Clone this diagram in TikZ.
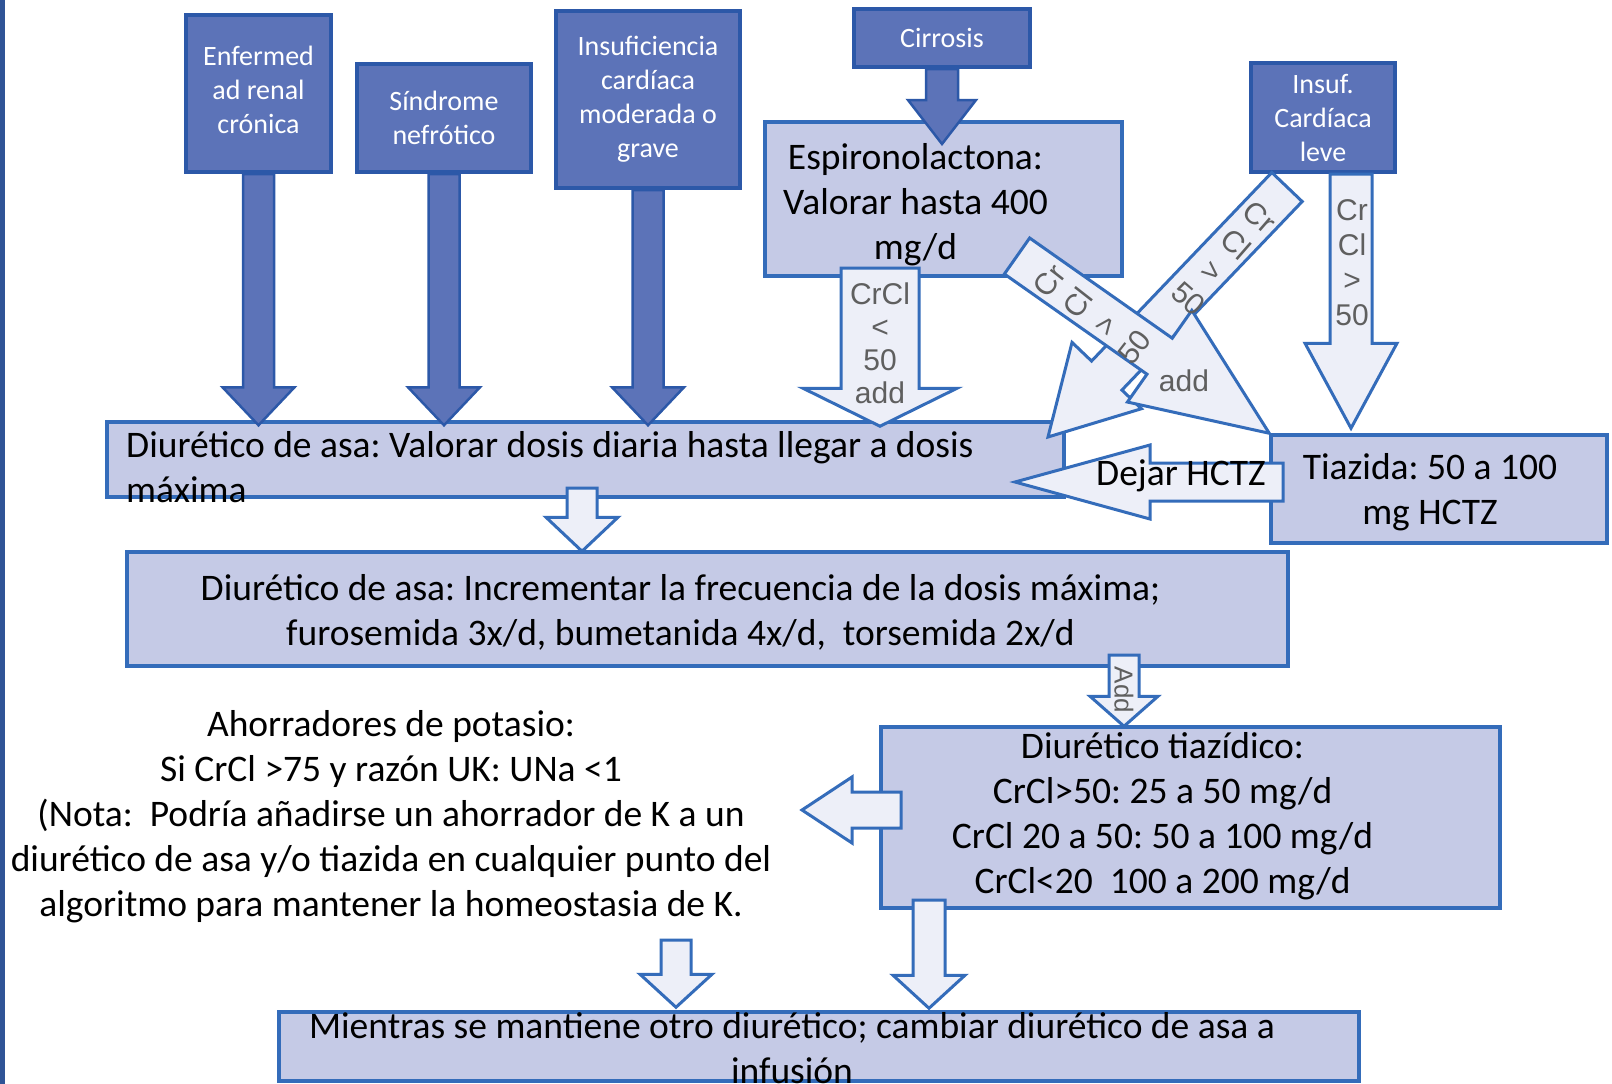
\documentclass[tikz,border=0pt]{standalone}
\usepackage{fontspec}
\setmainfont{Carlito}
\newfontfamily\arrowfont{Liberation Sans}
\usetikzlibrary{calc}
\frenchspacing

\definecolor{boxdark}{RGB}{92,115,184}
\definecolor{edgedark}{RGB}{44,88,168}
\definecolor{boxlite}{RGB}{197,202,230}
\definecolor{edgelite}{RGB}{52,108,186}
\definecolor{arrowlite}{RGB}{237,239,248}
\definecolor{labelgray}{RGB}{95,95,95}
\definecolor{sideline}{RGB}{47,84,150}

% fat block arrow: [style]{tail}{tip}{half shaft}{half head}{head length}
\newcommand{\blockarrow}[6][]{%
  \coordinate (ba-neck) at ($(#3)!#6!(#2)$);
  \draw[#1] ($(#2)!#4!90:(#3)$) -- ($(ba-neck)!#4!90:(#3)$)
    -- ($(ba-neck)!#5!90:(#3)$) -- (#3) -- ($(ba-neck)!#5!-90:(#3)$)
    -- ($(ba-neck)!#4!-90:(#3)$) -- ($(#2)!#4!-90:(#3)$) -- cycle;
}

\begin{document}
\begin{tikzpicture}[x=1pt, y=-1pt,
    darkbox/.style={draw=edgedark, fill=boxdark, line width=4pt, inner sep=0pt,
      text=white, align=center, font=\fontsize{28}{34}\selectfont},
    litebox/.style={draw=edgelite, fill=boxlite, line width=3.5pt, inner sep=0pt},
    bigtext/.style={align=center, inner sep=0pt, font=\fontsize{37.5}{45}\selectfont},
    darkarrow/.style={draw=edgedark, fill=boxdark, line width=2.5pt},
    litearrow/.style={draw=edgelite, fill=arrowlite, line width=3pt},
    arrowtext/.style={align=center, inner sep=0pt, text=labelgray,
      font=\arrowfont\fontsize{30}{33}\selectfont}]

  \fill[white] (0,0) rectangle (1612,1084);
  \useasboundingbox (0,0) rectangle (1612,1084);

  % side rule
  \fill[sideline] (0,0) rectangle (5,1084);

  % starting conditions
  \node[darkbox, minimum width=145pt, minimum height=157pt, text depth=8pt] (ckd) at (258.5,93.5) {Enfermed\\ad renal\\crónica};
  \node[darkbox, minimum width=174pt, minimum height=108pt] (nephro) at (444,118) {Síndrome\\nefrótico};
  \node[darkbox, minimum width=184pt, minimum height=177pt] (chf) at (648,99.5) {Insuficiencia\\cardíaca\\moderada o\\grave};
  \node[darkbox, minimum width=176pt, minimum height=58pt] (cirr) at (942,38) {Cirrosis};
  \node[darkbox, minimum width=144pt, minimum height=109pt] (mild) at (1323,117.5) {Insuf.\\Cardíaca\\leve};

  % treatment steps
  \node[litebox, minimum width=357pt, minimum height=154pt] (spiro) at (943.5,199) {};
  \node[litebox, minimum width=957pt, minimum height=75pt] (loop1) at (585.5,459.5) {};
  \node[litebox, minimum width=1161pt, minimum height=114pt] (loop2) at (707.5,609) {};
  \node[litebox, minimum width=336pt, minimum height=108pt] (thz) at (1439,489) {};
  \node[litebox, minimum width=619pt, minimum height=181pt] (thz2) at (1190.5,817.5) {};
  \node[litebox, minimum width=1080pt, minimum height=69pt] (infus) at (819,1046.5) {};

  % arrow ends
  \coordinate (ckd-tip) at ($(ckd.south |- loop1.north)+(0,5)$);
  \coordinate (nephro-tip) at ($(nephro.south |- loop1.north)+(0,5)$);
  \coordinate (chf-tip) at ($(chf.south |- loop1.north)+(0,5)$);
  \coordinate (cirr-tip) at ($(cirr.south)+(0,75)$);
  \coordinate (lt50-out) at (880,268);
  \coordinate (lt50-tip) at ($(lt50-out |- loop1.north)+(0,6)$);
  \coordinate (gt50-out) at ($(mild.south)+(28,0)$);
  \coordinate (gt50-tip) at ($(gt50-out |- thz.north)+(0,-5)$);
  \coordinate (diag-a-out) at (1017,256);
  \coordinate (diag-b-out) at (1287,187);
  \coordinate (diag-b-tip) at (1048,437);
  \coordinate (stop-out) at (1283,482);
  \coordinate (stop-tip) at (1015,482);
  \coordinate (step-out) at (582,488);
  \coordinate (step-tip) at ($(step-out |- loop2.north)+(0,1)$);
  \coordinate (add-out) at (1124,655);
  \coordinate (add-tip) at ($(add-out |- thz2.north)+(0,1)$);
  \coordinate (ksp-out) at (901,810);
  \coordinate (ksp-tip) at (802,810);
  \coordinate (note-out) at (676,940);
  \coordinate (note-tip) at ($(note-out |- infus.north)+(0,-3)$);
  \coordinate (thz2-out) at (929,900);
  \coordinate (thz2-tip) at ($(thz2-out |- infus.north)+(0,-2)$);

  % dark arrows
  \blockarrow[darkarrow]{ckd.south}{ckd-tip}{15.5pt}{36pt}{38pt}
  \blockarrow[darkarrow]{nephro.south}{nephro-tip}{15.5pt}{36pt}{38pt}
  \blockarrow[darkarrow]{chf.south}{chf-tip}{15.5pt}{36pt}{38pt}
  \blockarrow[darkarrow]{cirr.south}{cirr-tip}{16pt}{34pt}{44pt}

  % light arrows
  \blockarrow[litearrow]{lt50-out}{lt50-tip}{39pt}{77pt}{38pt}
  \blockarrow[litearrow]{gt50-out}{gt50-tip}{21pt}{46pt}{85pt}
  \blockarrow[litearrow]{diag-b-out}{diag-b-tip}{21pt}{48pt}{85pt}
  \blockarrow[litearrow]{diag-a-out}{thz.north west}{22pt}{56pt}{134pt}
  \blockarrow[litearrow]{stop-out}{stop-tip}{19pt}{37pt}{135pt}
  \blockarrow[litearrow]{step-out}{step-tip}{15pt}{36pt}{34pt}
  \blockarrow[litearrow]{add-out}{add-tip}{15pt}{34pt}{30pt}
  \blockarrow[litearrow]{ksp-out}{ksp-tip}{18pt}{33pt}{50pt}
  \blockarrow[litearrow]{note-out}{note-tip}{15pt}{36pt}{33pt}
  \blockarrow[litearrow]{thz2-out}{thz2-tip}{16pt}{36pt}{33pt}

  % arrow labels
  \node[arrowtext] (lt50-txt) at (880,343) {CrCl\\<\\50\\add};
  \node[arrowtext, font=\arrowfont\fontsize{30}{35}\selectfont] (gt50-txt) at (1352,263) {Cr\\Cl\\>\\50};
  \node[arrowtext, rotate=52, font=\arrowfont\fontsize{30}{36}\selectfont] (diag-a-txt) at (1092,314) {Cr\\Cl\\>\\50};
  \node[arrowtext] (diag-a-add) at (1184,381) {add};
  \node[arrowtext, rotate=-41, font=\arrowfont\fontsize{30}{36}\selectfont] (diag-b-txt) at (1224,258) {Cr\\Cl\\>\\50};
  \node[arrowtext, rotate=-90, font=\arrowfont\fontsize{26}{28}\selectfont] (add-txt) at (1124,690) {Add};
  \node[bigtext] (stop-txt) at (1181,476) {Dejar HCTZ};

  % step texts
  \node[bigtext] (spiro-txt) at ([xshift=-28pt, yshift=-6pt]spiro.center) {Espironolactona:\\Valorar hasta 400\\mg/d};
  \node[bigtext, align=left, anchor=west] (loop1-txt) at (126,467) {Diurético de asa: Valorar dosis diaria hasta llegar a dosis\\máxima};
  \node[bigtext] (loop2-txt) at ([xshift=-27pt, yshift=-3pt]loop2.center) {Diurético de asa: Incrementar la frecuencia de la dosis máxima;\\furosemida 3x/d, bumetanida 4x/d,\ \ torsemida 2x/d};
  \node[bigtext] (thz-txt) at ([xshift=-9pt, yshift=-3pt]thz.center) {Tiazida: 50 a 100\\mg HCTZ};
  \node[bigtext] (thz2-txt) at ([xshift=-28pt, yshift=1pt]thz2.center) {Diurético tiazídico:\\CrCl>50: 25 a 50 mg/d\\CrCl 20 a 50: 50 a 100 mg/d\\CrCl<20\ \ 100 a 200 mg/d};
  \node[bigtext] (note-txt) at (391,817) {Ahorradores de potasio:\\Si CrCl >75 y razón UK: UNa <1\\(Nota:\ \ Podría añadirse un ahorrador de K a un\\diurético de asa y/o tiazida en cualquier punto del\\algoritmo para mantener la homeostasia de K.};
  \node[bigtext] (infus-txt) at ([xshift=-27pt, yshift=-2pt]infus.center) {Mientras se mantiene otro diurético; cambiar diurético de asa a\\infusión};

\end{tikzpicture}
\end{document}
